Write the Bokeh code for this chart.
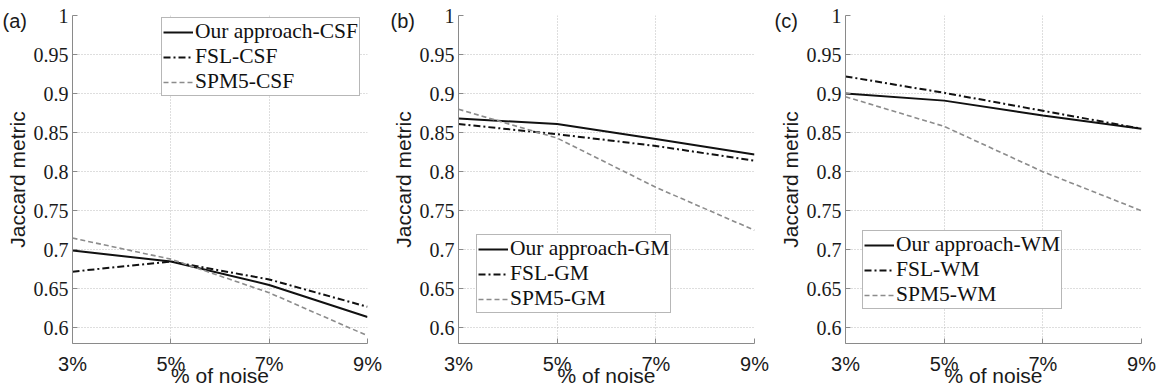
from bokeh.plotting import figure
from bokeh.layouts import row
from bokeh.models import Range1d, FixedTicker, Legend, LegendItem
from bokeh.embed import file_html
from bokeh.resources import INLINE

noise = [3, 5, 7, 9]
x_tick_labels = ["3%", "5%", "7%", "9%"]
y_ticks = [0.6, 0.65, 0.7, 0.75, 0.8, 0.85, 0.9, 0.95, 1.0]
y_tick_labels = ["0.6", "0.65", "0.7", "0.75", "0.8", "0.85", "0.9", "0.95", "1"]

ours_csf = [0.699, 0.685, 0.655, 0.614]
fsl_csf = [0.672, 0.685, 0.662, 0.627]
spm_csf = [0.715, 0.688, 0.645, 0.590]

ours_gm = [0.868, 0.861, 0.842, 0.822]
fsl_gm = [0.861, 0.848, 0.833, 0.814]
spm_gm = [0.880, 0.843, 0.780, 0.725]

ours_wm = [0.900, 0.891, 0.872, 0.855]
fsl_wm = [0.922, 0.901, 0.878, 0.855]
spm_wm = [0.896, 0.858, 0.800, 0.750]

SANS = "Liberation Sans"
SERIF = "Liberation Serif"


def make_panel(tag, tag_dx, width, right, ours, fsl, spm, names, legend_loc):
    p = figure(width=width, height=390, output_backend="svg", toolbar_location=None,
               x_range=Range1d(3, 9), y_range=Range1d(0.58, 1.0),
               min_border_left=72, min_border_right=right,
               min_border_top=15, min_border_bottom=47)
    p.outline_line_color = None
    p.background_fill_color = "white"
    p.border_fill_color = "white"

    p.title.text = tag
    p.title.align = "left"
    p.title.offset = tag_dx
    p.title.vertical_align = "bottom"
    p.title.text_font = SANS
    p.title.text_font_style = "normal"
    p.title.text_font_size = "20px"
    p.title.text_color = "#1a1a1a"
    p.title.standoff = -32

    for ax in (p.xaxis[0], p.yaxis[0]):
        ax.axis_line_color = "#8a8a8a"
        ax.major_tick_line_color = "#8a8a8a"
        ax.major_tick_in = 5
        ax.major_tick_out = 0
        ax.minor_tick_line_color = None
        ax.major_label_text_color = "#1a1a1a"
        ax.axis_label_text_color = "#1a1a1a"
        ax.axis_label_text_font_style = "normal"
        ax.axis_label_text_font = SANS
        ax.axis_label_text_font_size = "21px"

    p.xaxis.ticker = FixedTicker(ticks=noise)
    p.xaxis.major_label_overrides = {v: s for v, s in zip(noise, x_tick_labels)}
    p.xaxis.major_label_text_font = SANS
    p.xaxis.major_label_text_font_size = "20px"
    p.xaxis.major_label_standoff = 9
    p.xaxis.axis_label = "% of noise"
    p.xaxis.axis_label_standoff = -14

    p.yaxis.ticker = FixedTicker(ticks=y_ticks)
    p.yaxis.major_label_overrides = {v: s for v, s in zip(y_ticks, y_tick_labels)}
    p.yaxis.major_label_text_font = SERIF
    p.yaxis.major_label_text_font_size = "20px"
    p.yaxis.major_label_standoff = 4
    p.yaxis.axis_label = "Jaccard metric"
    p.yaxis.axis_label_standoff = 2

    for g in (p.xgrid[0], p.ygrid[0]):
        g.grid_line_color = "#bdbdbd"
        g.grid_line_dash = "1 2"
        g.grid_line_width = 1

    r1 = p.line(noise, ours, line_color="#111111", line_width=2)
    r2 = p.line(noise, fsl, line_color="#111111", line_width=2, line_dash="7 3 2 3")
    r3 = p.line(noise, spm, line_color="#8c8c8c", line_width=1.6, line_dash="5 3")

    legend = Legend(items=[LegendItem(label=names[0], renderers=[r1]),
                           LegendItem(label=names[1], renderers=[r2]),
                           LegendItem(label=names[2], renderers=[r3])],
                    location=legend_loc,
                    label_text_font=SERIF, label_text_font_size="21.5px",
                    label_text_color="#111111",
                    label_height=22, glyph_height=22, glyph_width=30,
                    label_standoff=2, spacing=-4, padding=1, margin=0,
                    border_line_color="#707070", border_line_width=1,
                    background_fill_color="white", background_fill_alpha=1.0)
    p.add_layout(legend, "center")
    return p


pa = make_panel("(a)", -70, 386, 19, ours_csf, fsl_csf, spm_csf,
                ["Our approach-CSF", "FSL-CSF", "SPM5-CSF"], (89, 247))
pb = make_panel("(b)", -68, 387, 19, ours_gm, fsl_gm, spm_gm,
                ["Our approach-GM", "FSL-GM", "SPM5-GM"], (18, 30))
pc = make_panel("(c)", -71, 384, 16, ours_wm, fsl_wm, spm_wm,
                ["Our approach-WM", "FSL-WM", "SPM5-WM"], (17, 34))

layout = row(pa, pb, pc)
open("out.html", "w").write(file_html(layout, INLINE))
